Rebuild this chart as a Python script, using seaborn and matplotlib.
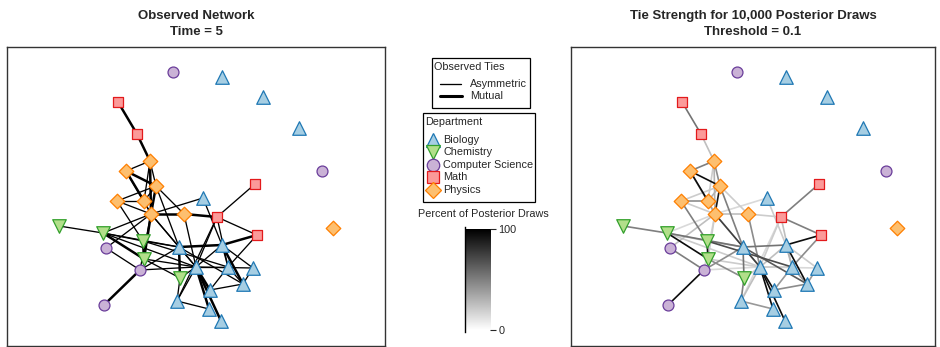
import numpy as np
import pandas as pd
import matplotlib
matplotlib.use("Agg")
import matplotlib.pyplot as plt
from matplotlib.collections import LineCollection
from matplotlib.colors import LinearSegmentedColormap
from matplotlib.patches import Rectangle
import seaborn as sns

# ---- network data ---------------------------------------------------------
departments = ["Biology", "Chemistry", "Computer Science", "Math", "Physics"]

# layout coordinates of the 37 actors
node_x = [166, 215, 256, 292, 315, 111, 130, 143, 119, 149, 248, 110, 137, 196,
          144, 177, 210, 326, 52, 96, 250, 136, 99, 172, 215, 137, 133, 189,
          221, 246, 173, 236, 203, 97, 170, 202, 214]
node_y = [274, 269, 249, 218, 175, 244, 212, 185, 175, 160, 162, 145, 145, 148,
          132, 132, 129, 118, 120, 113, 111, 105, 98, 99, 101, 87, 76, 79,
          79, 78, 68, 62, 56, 41, 45, 37, 25]
node_dept = ["Computer Science", "Biology", "Biology", "Biology", "Computer Science",
             "Math", "Math", "Physics", "Physics", "Physics", "Math", "Physics",
             "Physics", "Biology", "Physics", "Physics", "Math", "Physics",
             "Chemistry", "Chemistry", "Math", "Chemistry", "Computer Science",
             "Biology", "Biology", "Chemistry", "Computer Science", "Biology",
             "Biology", "Biology", "Chemistry", "Biology", "Biology",
             "Computer Science", "Biology", "Biology", "Biology"]

# observed ties at time 5 (1-based actor ids), mutual flag, and percent of posterior draws
edge_from = [6, 7, 8, 8, 8, 9, 9, 9, 10, 10, 10, 10, 10, 12, 12, 12, 13, 15, 14,
             15, 15, 15, 15, 15, 16, 16, 11, 17, 17, 17, 14, 21, 21, 24, 25, 25,
             25, 25, 28, 28, 28, 28, 28, 29, 30, 32, 29, 35, 24, 31, 24, 19, 20,
             20, 22, 23, 27, 24, 27, 26, 22, 22, 20, 26, 28, 24, 17, 28, 15, 8, 20]
edge_to = [7, 8, 9, 10, 15, 10, 13, 15, 12, 13, 15, 16, 24, 13, 15, 22, 15, 16, 15,
           20, 23, 26, 28, 27, 17, 28, 17, 21, 28, 29, 25, 25, 29, 25, 32, 30,
           28, 29, 33, 36, 37, 30, 29, 32, 32, 33, 33, 36, 31, 35, 32, 20, 24,
           26, 26, 27, 34, 27, 28, 31, 29, 24, 28, 28, 31, 28, 35, 35, 24, 13, 22]
edge_mutual = [1, 1, 0, 0, 1, 1, 1, 0, 0, 0, 1, 0, 0, 0, 0, 0, 0, 1, 0,
               0, 0, 1, 0, 0, 1, 0, 0, 0, 0, 0, 0, 1, 0, 1, 1, 0,
               0, 0, 1, 1, 1, 0, 0, 0, 0, 0, 0, 0, 1, 0, 0, 0, 0,
               1, 1, 0, 1, 0, 0, 0, 0, 0, 0, 0, 0, 0, 0, 0, 0, 0, 0]
edge_pct = [55, 25, 50, 45, 30, 95, 95, 35, 20, 30, 90, 20, 50, 45, 20, 50, 25, 25, 15,
            15, 25, 20, 75, 15, 20, 45, 50, 50, 20, 25, 20, 95, 45, 55, 95, 20,
            25, 30, 95, 95, 95, 15, 20, 40, 40, 45, 40, 40, 55, 50, 65, 50, 55,
            95, 95, 50, 95, 45, 15, 45, 70, 30, 20, 20, 20, 30, 15, 25, 20, 20, 25]

cbar_ticks = [0, 100]

# ---- styling ----------------------------------------------------------------
sns.set_style("white")
plt.rcParams["font.family"] = ["Liberation Sans", "DejaVu Sans"]

paired = sns.color_palette("Paired")
dept_fill = {"Biology": paired[0], "Chemistry": paired[2], "Computer Science": paired[8],
             "Math": paired[4], "Physics": paired[6]}
dept_edge = {"Biology": paired[1], "Chemistry": paired[3], "Computer Science": paired[9],
             "Math": paired[5], "Physics": paired[7]}
dept_marker = {"Biology": "^", "Chemistry": "v", "Computer Science": "o",
               "Math": "s", "Physics": "D"}
dept_size = {"Biology": 95, "Chemistry": 95, "Computer Science": 62,
             "Math": 52, "Physics": 55}

nodes = pd.DataFrame({"x": node_x, "y": node_y, "dept": node_dept})
edges = pd.DataFrame({"i": np.array(edge_from) - 1, "j": np.array(edge_to) - 1,
                      "mutual": edge_mutual, "pct": edge_pct})

strength_cmap = LinearSegmentedColormap.from_list("strength", ["#ffffff", "#000000"])

W, H = 940, 347
fig = plt.figure(figsize=(W / 100, H / 100), dpi=100)


def px_axes(x0, y0, x1, y1):
    return fig.add_axes([x0 / W, 1 - y1 / H, (x1 - x0) / W, (y1 - y0) / H])


def draw_nodes(ax):
    for d in departments:
        sub = nodes[nodes["dept"] == d]
        sns.scatterplot(data=sub, x="x", y="y", ax=ax, marker=dept_marker[d],
                        color=dept_fill[d], edgecolor=dept_edge[d], linewidth=0.9,
                        s=dept_size[d], legend=False, zorder=3)


def segments(df):
    return [[(nodes.x[a], nodes.y[a]), (nodes.x[b], nodes.y[b])]
            for a, b in zip(df["i"], df["j"])]


def finish(ax, xmax):
    ax.set_xlim(0, xmax)
    ax.set_ylim(0, 299)
    ax.set_xticks([])
    ax.set_yticks([])
    ax.set_xlabel("")
    ax.set_ylabel("")
    for sp in ax.spines.values():
        sp.set_visible(True)
        sp.set_color("#333333")
        sp.set_linewidth(1.0)


# ---- left: observed network ------------------------------------------------
ax1 = px_axes(7, 47, 385, 346)
asym = edges[edges["mutual"] == 0]
mut = edges[edges["mutual"] == 1]
ax1.add_collection(LineCollection(segments(asym), colors="black", linewidths=0.95, zorder=1))
ax1.add_collection(LineCollection(segments(mut), colors="black", linewidths=1.8, zorder=1))
draw_nodes(ax1)
finish(ax1, 378)
ax1.set_title("Observed Network\nTime = 5", fontsize=9.5, fontweight="bold",
              linespacing=1.45, pad=8.5)

# ---- right: posterior tie strength ------------------------------------------
ax2 = px_axes(571, 47, 935, 346)
ordered = edges.sort_values("pct")
ax2.add_collection(LineCollection(segments(ordered),
                                  colors=strength_cmap(ordered["pct"].to_numpy() / 100),
                                  linewidths=1.2, zorder=1))
draw_nodes(ax2)
finish(ax2, 364)
ax2.set_title("Tie Strength for 10,000 Posterior Draws\nThreshold = 0.1", fontsize=9.5,
              fontweight="bold", linespacing=1.45, pad=8.5)

# ---- legends (drawn on a pixel-space overlay) -------------------------------
ov = fig.add_axes([0, 0, 1, 1], zorder=5)
ov.set_xlim(0, W)
ov.set_ylim(H, 0)
ov.axis("off")
fs = 7.8

ov.add_patch(Rectangle((432, 58), 98, 50, fill=False, edgecolor="black", lw=0.9))
ov.text(434, 67, "Observed Ties", fontsize=fs, va="center", ha="left")
ov.plot([440, 461], [84, 84], color="black", lw=0.95)
ov.plot([440, 462], [96, 96], color="black", lw=2.2)
ov.text(470, 84, "Asymmetric", fontsize=fs, va="center", ha="left")
ov.text(470, 96, "Mutual", fontsize=fs, va="center", ha="left")

ov.add_patch(Rectangle((423, 113), 112, 89, fill=False, edgecolor="black", lw=0.9))
ov.text(425, 122, "Department", fontsize=fs, va="center", ha="left")
legend_rows = [139.5, 152, 164.5, 177, 189.5]
legend_ms = {"Biology": 10.5, "Chemistry": 10.5, "Computer Science": 9,
             "Math": 8, "Physics": 8.5}
for d, yy in zip(departments, legend_rows):
    ov.plot([433], [yy], ls="", marker=dept_marker[d], markersize=legend_ms[d],
            markerfacecolor=dept_fill[d], markeredgecolor=dept_edge[d],
            markeredgewidth=0.9)
    ov.text(443, yy, d, fontsize=fs, va="center", ha="left")

# ---- colour bar -------------------------------------------------------------
ov.text(483, 214, "Percent of Posterior Draws", ha="center", va="center", fontsize=fs)
cax = px_axes(465, 227, 490, 332)
gradient = np.linspace(0, 100, 256).reshape(-1, 1)
cax.imshow(gradient, aspect="auto", cmap=strength_cmap, origin="lower",
           extent=[0, 1, 0, 100], vmin=0, vmax=100)
cax.set_xlim(0, 1)
cax.set_ylim(-2, 102)
cax.set_xticks([])
cax.yaxis.tick_right()
cax.set_yticks(cbar_ticks)
cax.set_yticklabels([str(t) for t in cbar_ticks])
cax.tick_params(axis="y", length=4, width=0.8, labelsize=fs, pad=2, right=True, left=False)
for name, sp in cax.spines.items():
    sp.set_visible(name == "left")
cax.spines["left"].set_color("black")
cax.spines["left"].set_linewidth(1.0)

fig.savefig("out.png", dpi=100)
